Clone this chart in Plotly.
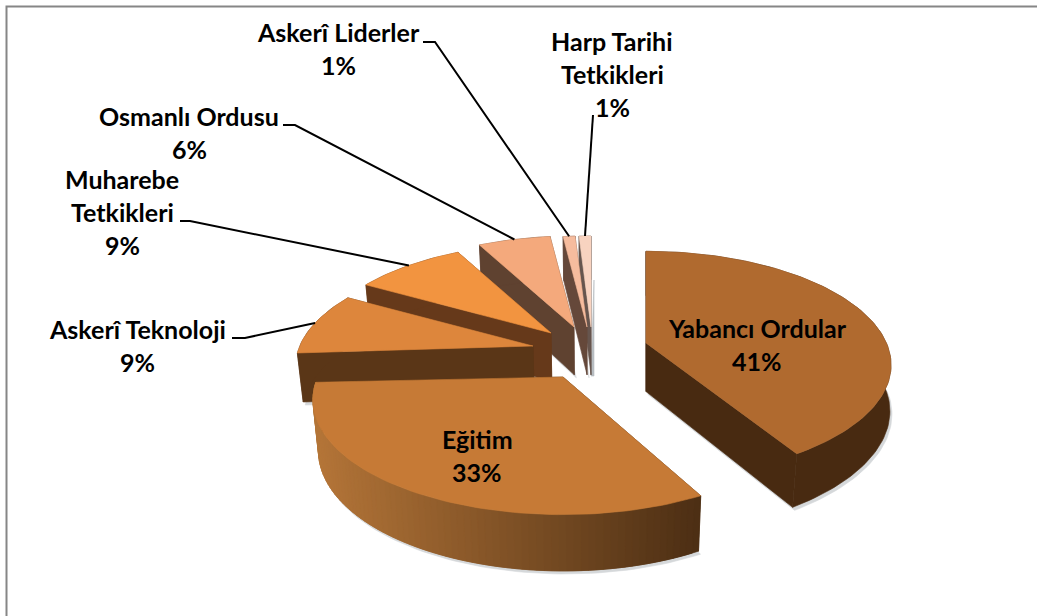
import math
import plotly.graph_objects as go

categories = ["Yabancı Ordular", "Eğitim", "Askerî Teknoloji", "Muharebe Tetkikleri",
              "Osmanlı Ordusu", "Askerî Liderler", "Harp Tarihi Tetkikleri"]
values = [41, 33, 9, 9, 6, 1, 1]

top_colors = ["#B06A2F", "#C67A36", "#DD863C", "#F29440", "#F4A97C", "#F6BC9E", "#F8D3C0"]
side_colors = ["#482A11", "#4D2F14", "#5A3617", "#66391A", "#5F4230", "#65483A", "#66554E"]

# exploded apex of each slice and small per-slice fitting of the 3D view
apex = [(646, 343), (563, 377), (533, 346), (551, 333), (574, 327), (587, 327), (591, 327)]
radius_scale = [1.01, 1.03, 0.98, 0.98, 1.0, 1.0, 1.0]
shift_start = [0, 4, 0, 0, 0, 0, 0]
shift_end = [0, 1, 0, 0, 0, 0, 0]

FONT = "Lato"
FS = 25
AX, AP, BY, CY = 238.0, 0.2, 112.0, 21.0
VCX = 590.0

# slice angle spans, clockwise from the top
spans = []
acc = 0.0
total = sum(values)
for val in values:
    a0 = acc
    acc += val / total * 360.0
    spans.append((a0, acc))


def project(i, theta_deg, r=1.0):
    a0, a1 = spans[i]
    f = (theta_deg - a0) / (a1 - a0)
    t = math.radians(theta_deg + shift_start[i] + (shift_end[i] - shift_start[i]) * f)
    r *= radius_scale[i]
    u, v = math.sin(t) * r, -math.cos(t) * r
    return (apex[i][0] + AX * u * (1 + AP * v), apex[i][1] + v * (BY + CY * v))


def drop(p):
    k = 0.02 if p[0] < VCX else 0.02 * min(1.0, max(0.0, (p[1] - 345) / 100))
    return (p[0] - (p[0] - VCX) * k, p[1] + 48 + (p[1] - 330) * 0.045)


def arc(i, a0, a1):
    n = max(3, int(abs(a1 - a0) / 1.5))
    return [project(i, a0 + (a1 - a0) * k / n) for k in range(n + 1)]


def mix(c0, c1, f):
    a = [int(c0[j:j + 2], 16) for j in (1, 3, 5)]
    b = [int(c1[j:j + 2], 16) for j in (1, 3, 5)]
    return "#%02X%02X%02X" % tuple(round(a[k] + (b[k] - a[k]) * f) for k in range(3))


def poly(pts, color, name, opacity=1.0):
    xs = [p[0] for p in pts] + [pts[0][0]]
    ys = [p[1] for p in pts] + [pts[0][1]]
    return go.Scatter(x=xs, y=ys, mode="lines", fill="toself", fillcolor=color,
                      line=dict(color=color, width=0.6), opacity=opacity,
                      name=name, hoverinfo="name", showlegend=False)


fig = go.Figure()
for i in [6, 5, 4, 3, 2, 0, 1]:
    a0, a1 = spans[i]
    name = categories[i]
    ap = project(i, a0, 0)
    edge0 = project(i, a0)
    edge1 = project(i, a1)
    pts = arc(i, a0, a1)
    # soft shadow under the walls
    low = [drop(p) for p in [ap, edge0] + pts + [edge1]]
    if i != 6:
        fig.add_trace(poly([(p[0] + 2, p[1] + 3) for p in low], "#8A9298", name, 0.35))
    else:
        fig.add_trace(poly([(ap[0] + 3, ap[1] - 47), (ap[0] + 3, ap[1] + 49), (ap[0], ap[1] + 49)],
                           "#9AA2A8", name, 0.7))
    # radial walls
    fig.add_trace(poly([ap, edge1, drop(edge1), drop(ap)], side_colors[i], name))
    fig.add_trace(poly([ap, edge0, drop(edge0), drop(ap)], side_colors[i], name))
    # outer wall
    if i == 1:
        # gradient from the light left end to the dark right end, strips overlap to hide seams
        for k in range(len(pts) - 1):
            xf = (pts[k][0] - pts[-1][0]) / (pts[0][0] - pts[-1][0])
            color = mix("#4D2F14", "#B47538", min(1, max(0, 1 - xf)))
            nxt = pts[min(k + 2, len(pts) - 1)]
            fig.add_trace(poly([pts[k], nxt, drop(nxt), drop(pts[k])], color, name))
    else:
        fig.add_trace(poly(pts + [drop(p) for p in reversed(pts)], side_colors[i], name))
    # top surface
    fig.add_trace(poly([ap] + pts, top_colors[i], name))

# labels: lines of each label and where they sit
label_lines = [
    (["Yabancı Ordular"], 757, 328),
    (["Eğitim"], 477, 439),
    (["Askerî Teknoloji"], 137, 329),
    (["Muharebe", "Tetkikleri"], 122, 179),
    (["Osmanlı Ordusu"], 189, 116),
    (["Askerî Liderler"], 338, 32),
    (["Harp Tarihi", "Tetkikleri"], 612, 41),
]
annotations = []
for i, (lines, lx, ly) in enumerate(label_lines):
    rows = lines + [f"{values[i]}%"]
    for j, row in enumerate(rows):
        annotations.append(dict(x=lx, y=ly + 33 * j, text=f"<b>{row}</b>", showarrow=False,
                                xref="x", yref="y", xanchor="center", yanchor="middle",
                                font=dict(family=FONT, size=FS, color="#000000")))

# leader lines: from the elbow beside the label to the middle of the slice's rim
elbows = {
    2: [(232, 338), (245, 338)],
    3: [(180, 221), (190, 221)],
    4: [(283, 125), (295, 125)],
    5: [(423, 42), (435, 42)],
    6: [(593, 115)],
}
shapes = []
for i, el in elbows.items():
    end = project(i, sum(spans[i]) / 2)
    p = el + [end]
    path = "M " + " L ".join(f"{x:.1f},{y:.1f}" for x, y in p)
    shapes.append(dict(type="path", path=path, xref="x", yref="y",
                       line=dict(color="#000000", width=2)))
# chart frame
shapes.append(dict(type="path", path="M 6.5,616 L 6.5,6.5 L 1037,6.5", xref="x", yref="y",
                   line=dict(color="#868686", width=2)))

fig.update_layout(
    width=1037, height=616, margin=dict(l=0, r=0, t=0, b=0),
    paper_bgcolor="#FFFFFF", plot_bgcolor="#FFFFFF", showlegend=False,
    xaxis=dict(range=[0, 1037], visible=False, fixedrange=True),
    yaxis=dict(range=[616, 0], visible=False, fixedrange=True),
    annotations=annotations, shapes=shapes,
)
fig.write_html("out.html", config={"displayModeBar": False},
               post_script="document.body.style.margin='0';document.body.style.overflow='hidden';")
